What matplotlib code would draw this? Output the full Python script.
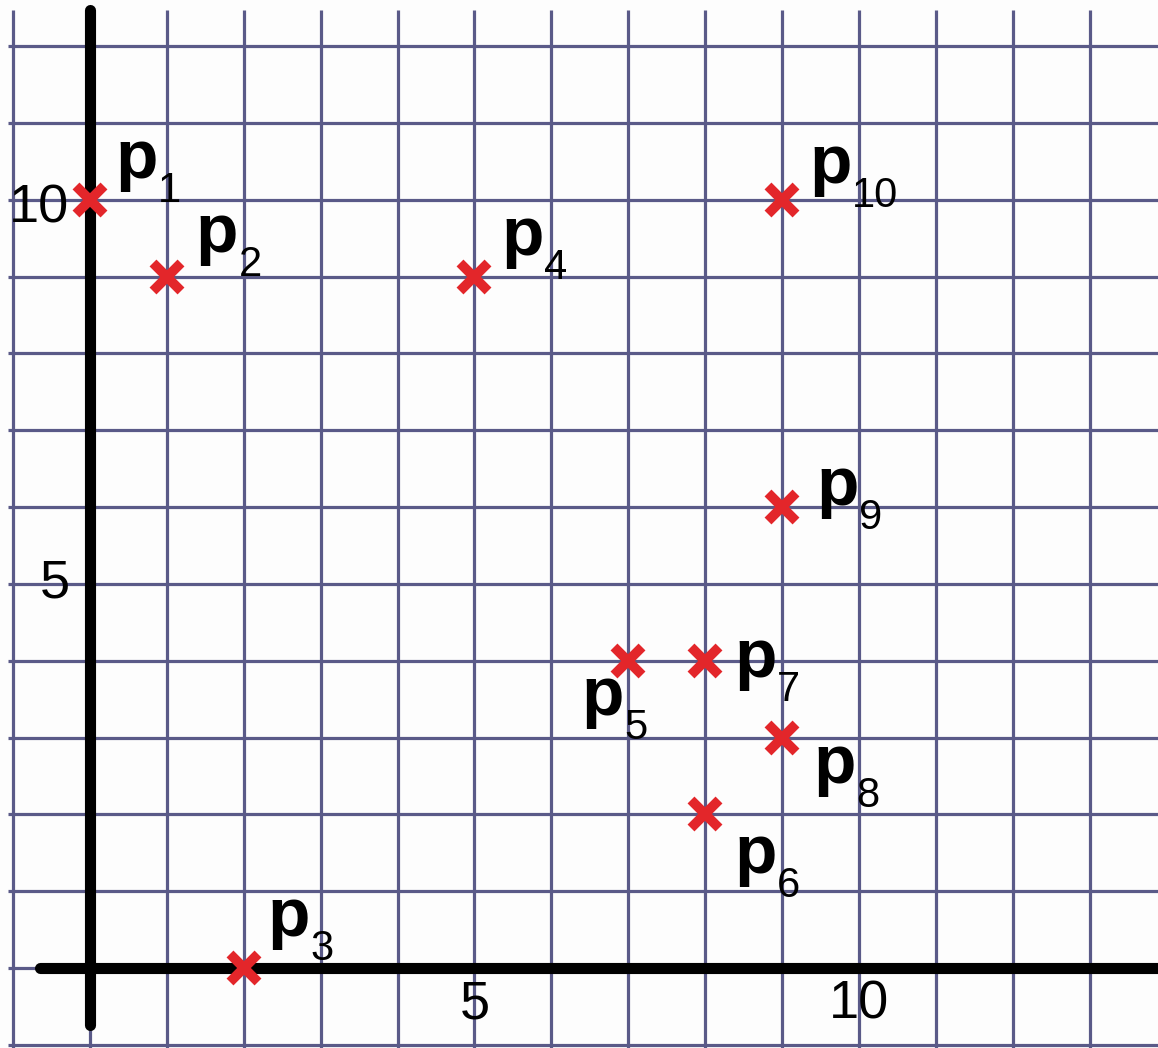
import numpy as np
import matplotlib.pyplot as plt

plt.rcParams['font.family'] = ['Liberation Sans', 'DejaVu Sans']

# points
names = ['1', '2', '3', '4', '5', '6', '7', '8', '9', '10']
px = [0, 1, 2, 5, 7, 8, 8, 9, 9, 9]
py = [10, 9, 0, 9, 4, 2, 4, 3, 6, 10]
tick_vals = [5, 10]

# label offsets in pixels (right, up) relative to each point
lab_dx = [25, 29, 24, 27, -47, 29, 29, 31, 34, 27]
lab_dy = [22, 25, 32, 22, -54, -59, -16, -45, 2, 17]

grid_col = '#5a5a88'
red = '#e3262a'

fig = plt.figure(figsize=(11.58, 10.48), dpi=100)
ax = fig.add_axes([0, 0, 1, 1])
ax.set_xlim(-1.17, 13.89)
ax.set_ylim(-1.04, 12.60)
ax.axis('off')
fig.patch.set_facecolor('#fdfdfd')

# grid paper
ytop = 12.47
ax.vlines(np.arange(-1, 14), -1.1, ytop, color=grid_col, lw=2.3, zorder=1)
ax.hlines(np.arange(-1, 13), -1.07, 14, color=grid_col, lw=2.3, zorder=1)

# axes
ax.plot([0, 0], [-0.74, ytop], color='black', lw=8, solid_capstyle='round', zorder=2)
ax.plot([-0.65, 14], [0, 0], color='black', lw=8, solid_capstyle='round', zorder=2)

# tick labels
ax.text(-0.27, 9.88, '10', ha='right', va='center', fontsize=39, zorder=3)
ax.text(-0.26, 5.0, '5', ha='right', va='center', fontsize=39, zorder=3)
for v in tick_vals:
    ax.text(v, -0.47, str(v), ha='center', va='center', fontsize=39, zorder=3)

# points
ax.plot(px, py, linestyle='none', marker='x', ms=20, mew=7, color=red, zorder=4)

for n, x, y, dx, dy in zip(names, px, py, lab_dx, lab_dy):
    ax.annotate('p', (x, y), xytext=(dx, dy), textcoords='offset pixels',
                fontsize=50, fontweight='bold', ha='left', va='baseline', zorder=5)
    ax.annotate(n, (x, y), xytext=(dx + 43, dy - 24), textcoords='offset pixels',
                fontsize=30, ha='left', va='baseline', zorder=5)

fig.savefig('out.png', dpi=100, facecolor=fig.get_facecolor())
